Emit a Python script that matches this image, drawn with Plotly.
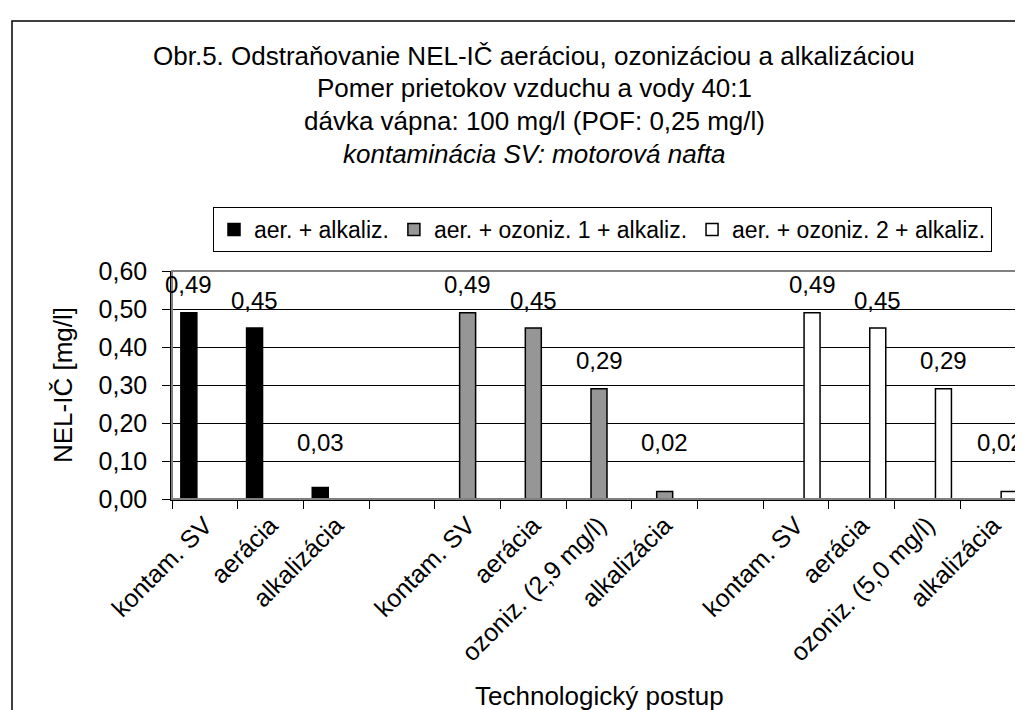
import plotly.graph_objects as go

# ---- data ----
categories = ["kontam. SV", "aerácia", "alkalizácia", "",
              "kontam. SV", "aerácia", "ozoniz. (2,9 mg/l)", "alkalizácia", "",
              "kontam. SV", "aerácia", "ozoniz. (5,0 mg/l)", "alkalizácia"]
series_names = ["aer. + alkaliz.", "aer. + ozoniz. 1 + alkaliz.", "aer. + ozoniz. 2 + alkaliz."]
s1_values = [0.49, 0.45, 0.03, None, None, None, None, None, None, None, None, None, None]
s2_values = [None, None, None, None, 0.49, 0.45, 0.29, 0.02, None, None, None, None, None]
s3_values = [None, None, None, None, None, None, None, None, None, 0.49, 0.45, 0.29, 0.02]
y_ticks = [0.0, 0.1, 0.2, 0.3, 0.4, 0.5, 0.6]

title_lines = ["Obr.5. Odstraňovanie NEL-IČ aeráciou, ozonizáciou a alkalizáciou",
               "Pomer prietokov vzduchu a vody 40:1",
               "dávka vápna: 100 mg/l (POF: 0,25 mg/l)",
               "<i>kontaminácia SV: motorová nafta</i>"]
x_title = "Technologický postup"
y_title = "NEL-IČ [mg/l]"

# ---- style ----
FONT = "Liberation Sans, Arial, sans-serif"
fills = ["#000000", "#969696", "#ffffff"]
W, H = 1023, 710
L, R, T, B = 164, 5, 263, 219
PW, PH = W - L - R, H - T - B
bargap = 0.27

def px_x(px):
    return (px - L) / PW

def px_y(py):
    return (H - B - py) / PH

xs = list(range(len(categories)))
all_values = [s1_values, s2_values, s3_values]

fig = go.Figure()
for name, vals, col in zip(series_names, all_values, fills):
    fig.add_trace(go.Bar(
        x=xs, y=vals, name=name,
        marker=dict(color=col, line=dict(color="#000000", width=1.5)),
    ))

annotations = []
bw = (1 - bargap) / len(all_values)
cat_px = PW / len(categories)
x_max_label = len(categories) - 0.5 - 26 / cat_px
for si, vals in enumerate(all_values):
    off = (si - (len(all_values) - 1) / 2) * bw
    for i, v in enumerate(vals):
        if v is None:
            continue
        annotations.append(dict(
            x=min(xs[i] + off, x_max_label), y=max(v, 0.075), xref="x", yref="y",
            text=f"{v:.2f}".replace(".", ","), showarrow=False,
            yshift=28, yanchor="middle", xanchor="center",
            font=dict(family=FONT, size=24, color="#000000")))

title_centers = [48, 80.5, 113, 145.5]
for line, yc in zip(title_lines, title_centers):
    annotations.append(dict(
        x=px_x(526), y=px_y(yc), xref="paper", yref="paper",
        text=line, showarrow=False, align="center",
        xanchor="center", yanchor="middle",
        font=dict(family=FONT, size=26, color="#000000")))
annotations.append(dict(
    x=0.5, y=px_y(688), xref="paper", yref="paper", text=x_title,
    showarrow=False, xanchor="center", yanchor="middle",
    font=dict(family=FONT, size=26, color="#000000")))
annotations.append(dict(
    x=px_x(55), y=0.5, xref="paper", yref="paper", text=y_title,
    showarrow=False, textangle=-90, xanchor="center", yanchor="middle",
    font=dict(family=FONT, size=26, color="#000000")))

shapes = [
    # plot area border (grey)
    dict(type="rect", xref="paper", yref="paper", x0=0, x1=1, y0=0, y1=1,
         line=dict(color="#808080", width=2), layer="above"),
    # outer chart border
    dict(type="rect", xref="paper", yref="paper", x0=px_x(4), x1=px_x(1060),
         y0=px_y(760), y1=px_y(13), line=dict(color="#000000", width=1.5)),
]

fig.update_layout(
    width=W, height=H,
    margin=dict(l=L, r=R, t=T, b=B, autoexpand=False),
    paper_bgcolor="#ffffff", plot_bgcolor="#ffffff",
    separators=", ",
    barmode="group", bargap=bargap, bargroupgap=0,
    font=dict(family=FONT, size=24, color="#000000"),
    showlegend=True,
    legend=dict(orientation="h", x=px_x(205), y=px_y(199), xanchor="left", yanchor="top",
                bordercolor="#000000", borderwidth=1, bgcolor="#ffffff",
                font=dict(family=FONT, size=23, color="#000000"),
                itemclick=False, tracegroupgap=0, itemwidth=30),
    annotations=annotations,
    shapes=shapes,
)

fig.update_xaxes(
    range=[-0.5, len(categories) - 0.5],
    tickmode="array", tickvals=xs, ticktext=categories,
    tickangle=-45, ticks="", showgrid=False, zeroline=False,
    showline=True, linecolor="#000000", linewidth=1.5,
    tickfont=dict(family=FONT, size=25, color="#000000"),
    minor=dict(tickmode="linear", tick0=-0.5, dtick=1, ticks="outside",
               ticklen=8, tickcolor="#000000", tickwidth=1, showgrid=False),
)
fig.update_yaxes(
    range=[0, 0.6], tickmode="array", tickvals=y_ticks, tickformat=".2f",
    ticks="outside", ticklen=8, tickcolor="#000000",
    showgrid=True, gridcolor="#000000", gridwidth=1, zeroline=False,
    showline=True, linecolor="#000000", linewidth=1.5,
    ticklabelstandoff=10,
    tickfont=dict(family=FONT, size=25, color="#000000"),
)

fig.write_html("out.html")
